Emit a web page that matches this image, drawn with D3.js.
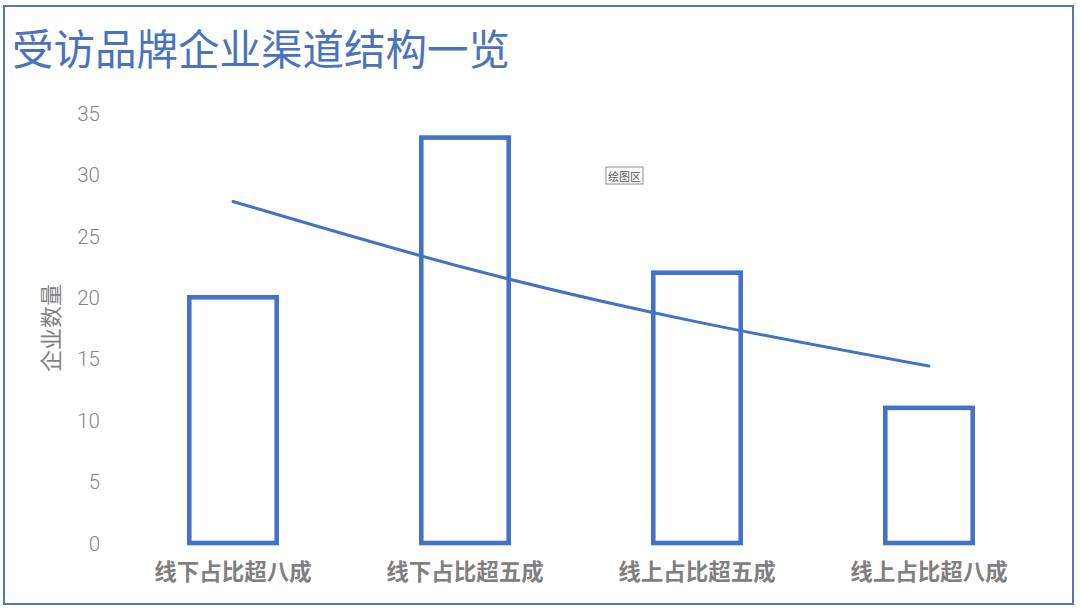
<!DOCTYPE html>
<html>
<head>
<meta charset="utf-8">
<script src="https://cdn.jsdelivr.net/npm/d3@7"></script>
<style>
  html, body { margin: 0; padding: 0; background: #fff; }
  svg { display: block; }
</style>
</head>
<body>
<svg id="chart" width="1080" height="608"></svg>
<script>
// ---- data ----
const categories = ["线下占比超八成", "线下占比超五成", "线上占比超五成", "线上占比超八成"];
const companyCounts = [20, 33, 22, 11];
const trendValues = [27.8, 22.4, 18.0, 14.4];   // trend line
const yTicks = [0, 5, 10, 15, 20, 25, 30, 35];
const titleText = "受访品牌企业渠道结构一览";
const yAxisTitle = "企业数量";
const tooltipText = "绘图区";

// ---- layout ----
const W = 1080, H = 608;
const plot = { left: 117, right: 1045, top: 113, bottom: 543 };
const blue = "#4472c4";
const cjk = "'Noto Sans CJK SC', 'Noto Sans', sans-serif";

const svg = d3.select("#chart");

svg.append("rect").attr("x", 0).attr("y", 0).attr("width", W).attr("height", H).attr("fill", "#fff");

// outer frame
svg.append("rect")
  .attr("x", 4).attr("y", 6).attr("width", 1069).attr("height", 598)
  .attr("fill", "none").attr("stroke", "#5078b8").attr("stroke-width", 2);

// title
svg.append("text")
  .attr("x", 12).attr("y", 47)
  .attr("dominant-baseline", "central")
  .attr("font-family", cjk)
  .attr("font-size", 41.5)
  .attr("fill", "#4a72bd")
  .text(titleText);

const x = d3.scaleBand().domain(categories).range([plot.left, plot.right]).paddingInner(0.623).paddingOuter(0.3115);
const y = d3.scaleLinear().domain([0, 35]).range([plot.bottom, plot.top]);

// y axis ticks (labels only)
const yAxis = d3.axisLeft(y).tickValues(yTicks).tickSize(0).tickPadding(0);
const gy = svg.append("g").attr("transform", "translate(100,0)").call(yAxis);
gy.select(".domain").remove();
gy.selectAll("text")
  .attr("font-family", "Roboto, 'Noto Sans', sans-serif")
  .attr("font-weight", 300)
  .attr("font-size", 20.5)
  .attr("fill", "#858585")
  .attr("dy", "0.35em");

// y axis title
svg.append("text")
  .attr("transform", "translate(49,328) rotate(-90)")
  .attr("text-anchor", "middle")
  .attr("dominant-baseline", "central")
  .attr("font-family", cjk)
  .attr("font-size", 22)
  .attr("fill", "#7f7f7f")
  .text(yAxisTitle);

// x axis labels
const xAxis = d3.axisBottom(x).tickSize(0).tickPadding(0);
const gx = svg.append("g").attr("transform", "translate(0,572)").call(xAxis);
gx.select(".domain").remove();
gx.selectAll("text")
  .attr("font-family", cjk)
  .attr("font-weight", "bold")
  .attr("font-size", 22.5)
  .attr("fill", "#7f7f7f")
  .attr("y", 0)
  .attr("dy", "0.35em");

// bars (outlined)
svg.append("g").selectAll("rect")
  .data(companyCounts)
  .join("rect")
  .attr("x", (d, i) => x(categories[i]))
  .attr("y", d => y(d))
  .attr("width", x.bandwidth())
  .attr("height", d => y(0) - y(d))
  .attr("fill", "none")
  .attr("stroke", blue)
  .attr("stroke-width", 4.6);

// trend line
const line = d3.line()
  .x((d, i) => x(categories[i]) + x.bandwidth() / 2)
  .y(d => y(d))
  .curve(d3.curveNatural);
svg.append("path")
  .datum(trendValues)
  .attr("d", line)
  .attr("fill", "none")
  .attr("stroke", blue)
  .attr("stroke-width", 3)
  .attr("stroke-linecap", "round");

// tooltip box "绘图区"
const tip = svg.append("g").attr("transform", "translate(606,167)");
tip.append("rect").attr("width", 37).attr("height", 17)
  .attr("fill", "#fff").attr("stroke", "#8c8c8c").attr("stroke-width", 1);
tip.append("text").attr("x", 18.5).attr("y", 9)
  .attr("text-anchor", "middle").attr("dominant-baseline", "central")
  .attr("font-family", cjk).attr("font-size", 11).attr("fill", "#555")
  .text(tooltipText);
</script>
</body>
</html>
